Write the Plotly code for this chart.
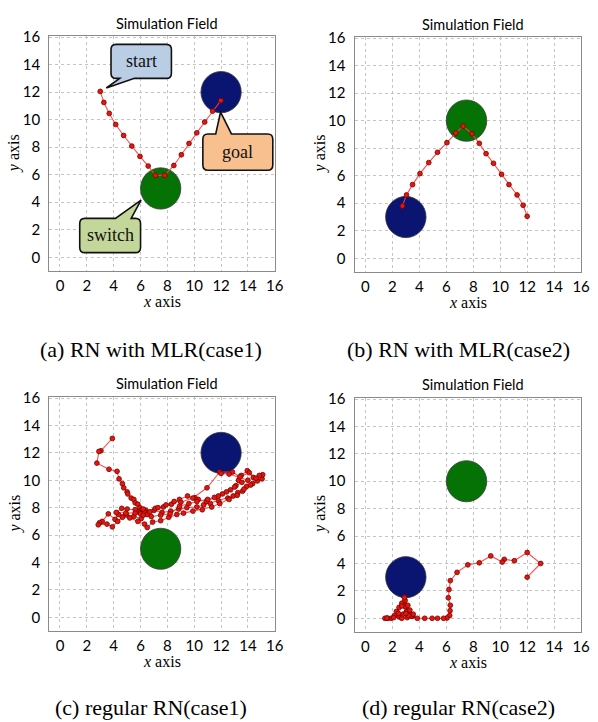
import plotly.graph_objects as go

# ---------------- data ----------------
tick_vals = [0, 2, 4, 6, 8, 10, 12, 14, 16]
panel_title = "Simulation Field"
captions = ["(a) RN with MLR(case1)", "(b) RN with MLR(case2)",
            "(c) regular RN(case1)", "(d) regular RN(case2)"]

obstacle_radius = 1.5
goal_x = [12, 3, 12, 3]
goal_y = [12, 3, 12, 3]
switch_x = [7.5, 7.5, 7.5, 7.5]
switch_y = [5, 10, 5, 10]

traj_a_x = [3.0, 3.27, 3.67, 4.15, 4.74, 5.35, 5.96, 6.57, 7.11, 7.8, 8.48, 9.04, 9.61, 10.19, 10.78, 11.37, 11.98]
traj_a_y = [12.05, 11.25, 10.45, 9.65, 8.85, 8.08, 7.33, 6.63, 5.95, 5.95, 6.67, 7.45, 8.27, 9.04, 9.83, 10.62, 11.38]

traj_b_x = [12.0, 11.7, 11.25, 10.65, 10.1, 9.5, 8.95, 8.45, 7.9, 7.25, 6.7, 6.05, 5.35, 4.7, 4.05, 3.5, 3.05, 2.75]
traj_b_y = [3.05, 3.85, 4.6, 5.35, 6.1, 6.9, 7.6, 8.35, 9.05, 9.6, 9.1, 8.4, 7.7, 6.95, 6.15, 5.35, 4.6, 3.8]

traj_c_x = [3.9, 3.05, 2.9, 2.75, 3.65, 4.25, 4.4, 4.65, 4.75, 5.0, 5.05, 5.3, 5.5, 5.6, 5.8, 5.95, 6.1, 5.85, 6.2, 6.4,
            6.0, 5.7, 6.3, 7.0, 7.6, 8.25, 8.85, 9.45, 10.2, 10.7, 11.2, 11.8, 12.5, 12.9, 13.25, 13.6, 13.9, 14.35, 14.7, 15.05,
            15.1, 14.85, 14.4, 13.95, 13.5, 13.3, 13.1, 12.7, 12.1, 11.5, 10.9, 10.3, 10.05, 9.5, 8.9, 8.3, 7.7, 7.1, 6.5, 6.05,
            5.5, 4.95, 4.35, 4.1, 3.6, 3.15, 2.95, 2.85, 3.5, 3.9, 4.3, 4.65, 5.2, 5.8, 6.3, 6.5, 6.9, 7.5, 8.1, 8.7,
            9.2, 9.9, 10.6, 11.3, 11.9, 12.6, 13.2, 13.7, 14.2, 14.6, 14.1, 13.4, 12.85, 11.9, 10.95, 9.9, 9.0, 8.5, 7.9, 7.3,
            6.7, 6.2, 5.6, 5.0, 4.6, 4.2, 4.9, 5.6, 6.2, 6.8, 7.5, 8.2, 8.9, 9.6, 10.2, 11.0, 11.8, 12.4, 13.0, 13.55,
            14.0, 12.6, 12.0]
traj_c_y = [13.05, 12.15, 12.1, 11.25, 10.8, 10.65, 10.1, 9.75, 9.45, 9.15, 9.0, 8.7, 8.6, 8.35, 8.25, 8.0, 7.85, 7.7, 7.6, 7.8,
            7.55, 7.75, 7.7, 7.8, 7.65, 7.75, 7.9, 8.0, 8.05, 8.2, 8.3, 8.5, 8.7, 8.85, 9.1, 9.2, 9.55, 9.75, 9.95, 10.1,
            10.4, 10.35, 10.2, 10.7, 10.35, 10.0, 9.6, 9.3, 9.0, 8.75, 8.45, 8.6, 8.72, 8.85, 8.6, 8.25, 8.05, 7.95, 7.5, 7.2,
            7.35, 7.5, 7.5, 7.15, 7.55, 7.0, 6.9, 6.75, 6.8, 6.6, 7.0, 7.3, 7.25, 7.0, 6.8, 6.55, 6.95, 7.05, 7.3, 7.5,
            7.6, 7.75, 7.85, 8.05, 8.3, 8.6, 8.9, 9.35, 9.65, 10.15, 10.55, 10.25, 10.6, 10.6, 9.45, 8.7, 8.4, 8.45, 8.2, 8.0,
            7.7, 7.9, 7.85, 7.9, 7.95, 7.65, 7.6, 7.6, 7.45, 7.35, 7.45, 7.55, 8.1, 8.3, 8.45, 8.6, 8.85, 9.15, 9.5, 9.85,
            10.0, 10.45, 10.5]

traj_d_x = [12.0, 13.0, 12.0, 11.05, 10.3, 10.15, 9.3, 8.45, 7.6, 6.8, 6.3, 6.2, 6.15, 6.3, 6.28, 6.25, 6.05, 5.8, 5.35, 4.95,
            4.4, 3.85, 3.5, 3.3, 3.1, 2.95, 2.85, 2.9, 2.7, 2.5, 2.3, 2.15, 1.9, 1.65, 1.45, 1.6, 2.1, 2.5, 2.8, 3.05,
            3.25, 3.4, 3.1, 2.7, 2.45, 2.7, 2.95, 3.15, 3.3, 3.55, 3.2, 3.0, 2.9]
traj_d_y = [3.0, 4.0, 4.8, 4.2, 4.3, 4.1, 4.55, 4.05, 3.9, 3.35, 2.75, 2.1, 1.5, 0.95, 0.55, 0.2, 0.02, 0.0, 0.0, 0.0,
            0.0, 0.0, 0.15, 0.35, 0.55, 0.85, 1.1, 1.55, 1.1, 0.8, 0.5, 0.2, 0.0, 0.0, 0.0, 0.02, 0.05, 0.1, 0.3, 0.5,
            0.3, 0.15, 0.05, 0.0, 0.35, 0.9, 1.3, 0.95, 0.6, 0.3, 0.2, 0.35, 1.5]

traj_x = [traj_a_x, traj_b_x, traj_c_x, traj_d_x]
traj_y = [traj_a_y, traj_b_y, traj_c_y, traj_d_y]

# callouts of panel (a)
callout_labels = ["start", "goal", "switch"]
callout_fill = ["#B9CDE5", "#F8BF8F", "#C4D79B"]

# ---------------- layout geometry ----------------
W, H = 598, 722
# plot areas in pixels: (left, right, top, bottom)
areas = [(50, 279, 28, 266), (360, 590, 29, 267), (50, 279, 393, 630), (360, 590, 394, 631)]
title_pos = [(170, 16), (480, 17), (170, 380), (480, 381)]
caption_pos = [(153, 345), (465, 345), (153, 707), (465, 707)]
xrange_ = [-0.8, 16]
yrange_ = [-1, 16.1]

callout_geom = [
    dict(box=(3.8, 8.3, 13.0, 15.47), side="bottom", base=(4.45, 5.55), tip=(3.45, 12.3)),
    dict(box=(10.64, 15.85, 6.32, 8.96), side="top", base=(11.6, 12.77), tip=(11.96, 10.55)),
    dict(box=(1.47, 6.0, 0.34, 2.83), side="top", base=(4.13, 5.3), tip=(6.04, 4.16)),
]


def callout_path(box, side, base, tip, r=0.38):
    x0, x1, y0, y1 = box
    b0, b1 = base
    tx, ty = tip
    p = f"M {x0 + r},{y1} "
    if side == "top":
        p += f"L {b0},{y1} L {tx},{ty} L {b1},{y1} "
    p += f"L {x1 - r},{y1} Q {x1},{y1} {x1},{y1 - r} L {x1},{y0 + r} Q {x1},{y0} {x1 - r},{y0} "
    if side == "bottom":
        p += f"L {b1},{y0} L {tx},{ty} L {b0},{y0} "
    p += f"L {x0 + r},{y0} Q {x0},{y0} {x0},{y0 + r} L {x0},{y1 - r} Q {x0},{y1} {x0 + r},{y1} Z"
    return p


fig = go.Figure()
shapes = []
annotations = []
serif = "Liberation Serif, Times New Roman, serif"
sans = "Lato, Open Sans, sans-serif"

for i in range(4):
    l, r, t, b = areas[i]
    sfx = "" if i == 0 else str(i + 1)
    xa, ya = "x" + sfx, "y" + sfx
    fig.add_trace(go.Scatter(
        x=traj_x[i], y=traj_y[i], mode="lines+markers",
        xaxis=xa, yaxis=ya, showlegend=False, hoverinfo="skip",
        line=dict(color="rgba(255,60,60,0.9)", width=1.1),
        marker=dict(size=4.8, color="#E0190F", line=dict(color="#7A0000", width=0.8)),
    ))
    axcommon = dict(
        showgrid=True, gridcolor="#C4C4C4", griddash="dot", gridwidth=1,
        zeroline=False, showline=True, mirror=True, linecolor="#8A8A8A", linewidth=1.2,
        ticks="", tickvals=tick_vals, tickfont=dict(family=sans, size=15, color="#000"),
        fixedrange=True,
    )
    fig.update_layout(**{
        "xaxis" + sfx: dict(axcommon, domain=[l / W, r / W], range=xrange_, anchor=ya, ticklabelstandoff=1),
        "yaxis" + sfx: dict(axcommon, domain=[1 - b / H, 1 - t / H], range=yrange_, anchor=xa, ticklabelstandoff=5),
    })
    for cx, cy, col in [(goal_x[i], goal_y[i], "#0A1471"), (switch_x[i], switch_y[i], "#057205")]:
        shapes.append(dict(type="circle", xref=xa, yref=ya, layer="between",
                           x0=cx - obstacle_radius, x1=cx + obstacle_radius,
                           y0=cy - obstacle_radius, y1=cy + obstacle_radius,
                           fillcolor=col, line=dict(color="#3A3A3A", width=0.8)))
    tx, ty = title_pos[i]
    annotations.append(dict(text=panel_title, x=tx / W, y=1 - ty / H, xref="paper", yref="paper",
                            showarrow=False, xanchor="center", yanchor="middle",
                            font=dict(family=sans, size=14.5, color="#000")))
    annotations.append(dict(text="<i>x</i> axis", x=(l + r) / 2 / W, y=1 - (b + 31) / H, xref="paper", yref="paper",
                            showarrow=False, xanchor="center", yanchor="middle",
                            font=dict(family=serif, size=16, color="#000")))
    annotations.append(dict(text="<i>y</i> axis", x=(l - 35) / W, y=1 - (t + b) / 2 / H, xref="paper", yref="paper",
                            showarrow=False, xanchor="center", yanchor="middle", textangle=-90,
                            font=dict(family=serif, size=16, color="#000")))
    cx_, cy_ = caption_pos[i]
    annotations.append(dict(text=captions[i], x=cx_ / W, y=1 - cy_ / H, xref="paper", yref="paper",
                            showarrow=False, xanchor="center", yanchor="middle",
                            font=dict(family=serif, size=22, color="#000")))

for lab, fillc, g in zip(callout_labels, callout_fill, callout_geom):
    shapes.append(dict(type="path", xref="x", yref="y", layer="above",
                       path=callout_path(g["box"], g["side"], g["base"], g["tip"]),
                       fillcolor=fillc, line=dict(color="#111", width=1.6)))
    x0, x1, y0, y1 = g["box"]
    annotations.append(dict(text=lab, x=(x0 + x1) / 2, y=(y0 + y1) / 2, xref="x", yref="y",
                            showarrow=False, font=dict(family=serif, size=18, color="#111")))

fig.update_layout(
    width=W, height=H, margin=dict(l=0, r=0, t=0, b=0),
    paper_bgcolor="white", plot_bgcolor="white",
    shapes=shapes, annotations=annotations,
)
fig.write_html("out.html", config={"displayModeBar": False},
               post_script="document.body.style.margin='0';document.body.style.overflow='hidden';")
